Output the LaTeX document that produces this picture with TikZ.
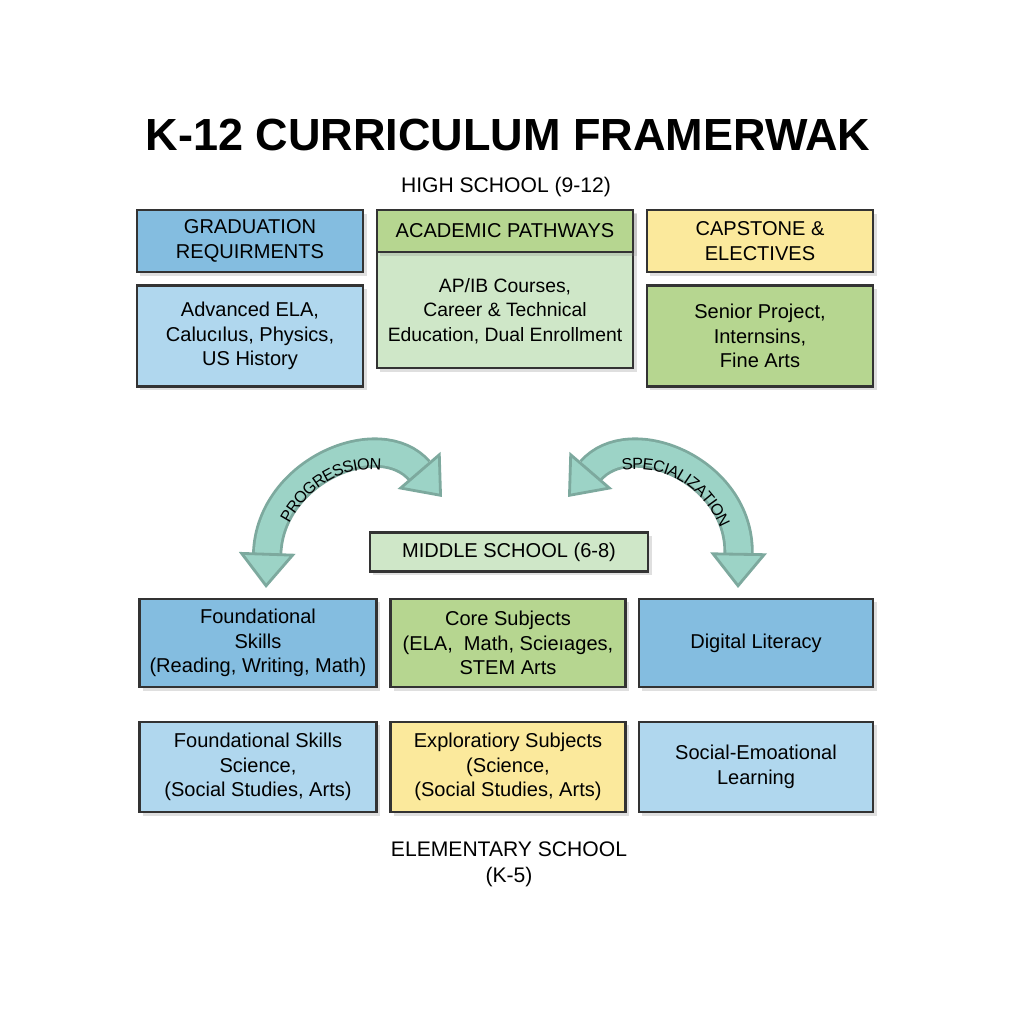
\documentclass[tikz,border=0pt]{standalone}
\usepackage{fontspec}
\setmainfont{Liberation Sans}
\usetikzlibrary{arrows.meta,shadows,decorations.text}

\definecolor{blueD}{HTML}{84BDE0}
\definecolor{blueL}{HTML}{B0D7EE}
\definecolor{greenD}{HTML}{B6D690}
\definecolor{greenL}{HTML}{CFE7C8}
\definecolor{yellowL}{HTML}{FBE99C}
\definecolor{arcteal}{HTML}{9CD3C6}

\tikzset{
  box/.style={draw=black!80, thick, align=center, font=\fontsize{5.7}{7}\selectfont, inner sep=1pt, drop shadow={opacity=0.25, shadow xshift=1pt, shadow yshift=-1pt}},
  lbl/.style={font=\fontsize{6}{7.4}\selectfont, align=center},
  arcarrow/.style={draw=arcteal!80!black, line width=0.8pt, double=arcteal, double distance=7pt, {Triangle[width=16pt,length=10pt,fill=arcteal]}-{Triangle[width=16pt,length=10pt,fill=arcteal]}}
}

\begin{document}
\begin{tikzpicture}[x=0.01cm,y=-0.01cm]
\useasboundingbox (0,0) rectangle (1024,1024);

% headings
\node[font=\fontsize{12.8}{14}\selectfont\bfseries] (title) at (508,135) {K-12 CURRICULUM FRAMERWAK};
\node[lbl] (high) at (506,187) {HIGH SCHOOL (9-12)};

% high school
\node[box, fill=blueD, minimum width=2.26cm, minimum height=0.62cm] (grad) at (250,241) {GRADUATION\\REQUIRMENTS};
\node[box, fill=blueL, minimum width=2.26cm, minimum height=1.01cm] (ela) at (250,336) {Advanced ELA,\\Calucılus, Physics,\\US History};
\node[box, fill=greenL, minimum width=2.56cm, minimum height=1.58cm] (path) at (505,289) {};
\node[box, fill=greenD, minimum width=2.56cm, minimum height=0.42cm, drop shadow={opacity=0}] (pathhead) at (505,231) {ACADEMIC PATHWAYS};
\node[lbl, font=\fontsize{5.5}{7}\selectfont] (pathtxt) at (505,311) {AP/IB Courses,\\Career \& Technical\\Education, Dual Enrollment};
\node[box, fill=yellowL, minimum width=2.26cm, minimum height=0.62cm] (cap) at (760,241) {CAPSTONE \&\\ELECTIVES};
\node[box, fill=greenD, minimum width=2.26cm, minimum height=1.01cm] (senior) at (760,336) {Senior Project,\\Internsins,\\Fine Arts};

% middle school
\node[box, fill=greenL, minimum width=2.78cm, minimum height=0.39cm] (middle) at (509,552) {MIDDLE SCHOOL (6-8)};
\node[box, fill=blueD, minimum width=2.37cm, minimum height=0.88cm] (found) at (258,643) {Foundational\\Skills\\(Reading, Writing, Math)};
\node[box, fill=greenD, minimum width=2.35cm, minimum height=0.88cm] (core) at (508,643) {Core Subjects\\(ELA,~~Math, Scieıages,\\STEM Arts};
\node[box, fill=blueD, minimum width=2.34cm, minimum height=0.88cm] (digital) at (756,643) {Digital Literacy};

% elementary
\node[box, fill=blueL, minimum width=2.37cm, minimum height=0.90cm] (foundsci) at (258,767) {Foundational Skills\\Science,\\(Social Studies, Arts)};
\node[box, fill=yellowL, minimum width=2.35cm, minimum height=0.90cm] (explore) at (508,767) {Exploratiory Subjects\\(Science,\\(Social Studies, Arts)};
\node[box, fill=blueL, minimum width=2.34cm, minimum height=0.90cm] (social) at (756,767) {Social-Emoational\\Learning};
\node[lbl] (elem) at (509,864) {ELEMENTARY SCHOOL\\(K-5)};

% curved arrows
\coordinate (pl1) at (266,588);
\coordinate (pl2) at (442,497);
\coordinate (pr1) at (568,497);
\coordinate (pr2) at (738,588);
\draw[arcarrow] (pl1) .. controls (270,470) and (380,425) .. (pl2);
\draw[arcarrow] (pr1) .. controls (630,425) and (740,470) .. (pr2);
\path[decorate, decoration={text along path, text align=center, raise=-2pt,
  text={|\fontsize{4.6}{6}\selectfont|PROGRESSION}}] (pl1) .. controls (270,470) and (380,425) .. (pl2);
\path[decorate, decoration={text along path, text align=center, raise=-2pt,
  text={|\fontsize{4.6}{6}\selectfont|SPECIALIZATION}}] (pr1) .. controls (630,425) and (740,470) .. (pr2);
\end{tikzpicture}
\end{document}
